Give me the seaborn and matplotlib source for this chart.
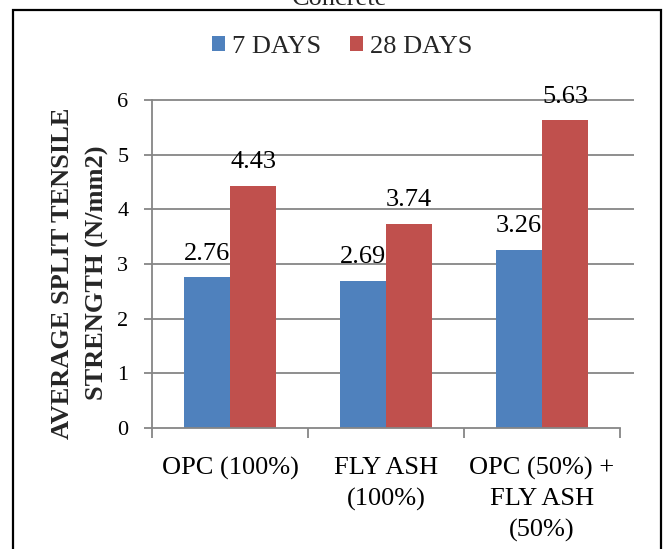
import matplotlib
matplotlib.use("Agg")
import matplotlib.pyplot as plt
from matplotlib.patches import Rectangle
from matplotlib.ticker import FixedLocator
import seaborn as sns
import pandas as pd

# Mix designs and measured split tensile strengths (N/mm2)
categories = ["OPC (100%)", "FLY ASH\n(100%)", "OPC (50%) +\nFLY ASH\n(50%)"]
days_7 = [2.76, 2.69, 3.26]
days_28 = [4.43, 3.74, 5.63]
series_names = ["7 DAYS", "28 DAYS"]
y_ticks = [0, 1, 2, 3, 4, 5, 6]

df = pd.DataFrame({
    "mix": categories * 2,
    "strength": days_7 + days_28,
    "age": [series_names[0]] * 3 + [series_names[1]] * 3,
})

sns.set_theme(style="white")
plt.rcParams["font.family"] = ["Liberation Serif", "DejaVu Serif"]

fig = plt.figure(figsize=(6.68, 5.49), dpi=100)
ax = fig.add_axes([152 / 668, 1 - 428 / 549, (620 - 152) / 668, (428 - 100) / 549])

palette = ["#4F81BD", "#C0504D"]
sns.barplot(data=df, x="mix", y="strength", hue="age", order=categories,
            hue_order=series_names, palette=palette, width=0.59, gap=0,
            saturation=1, edgecolor="none", linewidth=0, ax=ax, legend=True)

ax.set_xlim(-0.5, 2.5)
ax.set_ylim(0, 6)
ax.set_yticks(y_ticks)
ax.set_xlabel("")
ax.set_ylabel("")

grid_color = "#868686"
# horizontal gridlines running slightly past the plot edge
ax.hlines(y_ticks[1:], 0, 1.03, transform=ax.get_yaxis_transform(),
          colors=grid_color, linewidth=1.3, clip_on=False, zorder=0)

for side in ["top", "right"]:
    ax.spines[side].set_visible(False)
for side in ["left", "bottom"]:
    ax.spines[side].set_color(grid_color)
    ax.spines[side].set_linewidth(1.3)

ax.tick_params(axis="y", which="major", direction="out", length=6, width=1.3,
               color=grid_color, labelsize=16, pad=11, labelcolor="black", left=True)
ax.tick_params(axis="x", which="major", length=0, labelsize=19, pad=21,
               labelcolor="black")
ax.xaxis.set_minor_locator(FixedLocator([-0.5, 0.5, 1.5, 2.5]))
ax.tick_params(axis="x", which="minor", direction="out", length=7, width=1.3,
               color=grid_color, bottom=True)
for lbl in ax.get_xticklabels():
    lbl.set_linespacing(1.48)
    lbl.set_verticalalignment("top")

for cont in ax.containers:
    ax.bar_label(cont, fmt="%.2f", fontsize=19, padding=9, color="black")

leg = ax.legend(loc="center", bbox_to_anchor=(342 / 668, 1 - 47 / 549),
                bbox_transform=fig.transFigure, ncol=2, frameon=False,
                fontsize=19, handlelength=0.5, handleheight=0.5,
                handletextpad=0.25, columnspacing=1.1)

fig.text(80 / 668, 1 - 273 / 549, "AVERAGE SPLIT TENSILE\nSTRENGTH (N/mm2)",
         rotation=90, ha="center", va="center", fontsize=19, fontweight="bold",
         linespacing=1.6, multialignment="center")

fig.text(340 / 668, 1 - 5 / 549, "Concrete", ha="center", va="baseline",
         fontsize=19)

fig.patches.append(Rectangle((13 / 668, -0.05), (661 - 13) / 668, 1.05 - 10 / 549,
                             transform=fig.transFigure, fill=False,
                             edgecolor="black", linewidth=1.6))

fig.savefig("out.png", dpi=100)
